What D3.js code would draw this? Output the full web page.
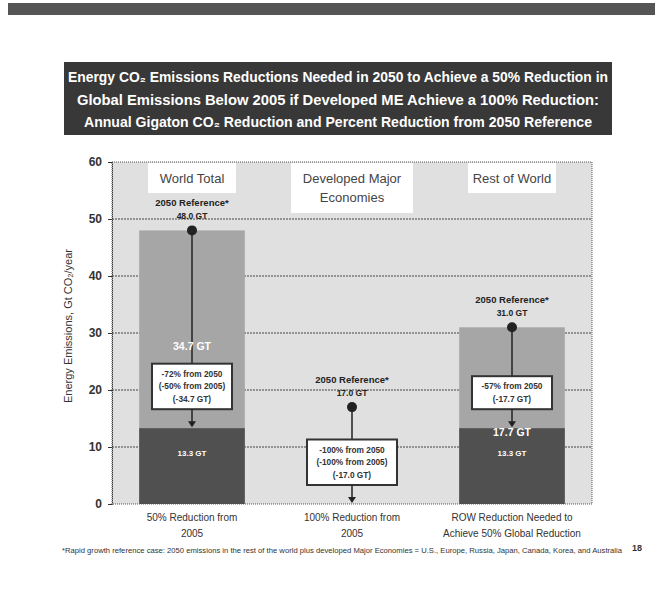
<!DOCTYPE html>
<html>
<head>
<meta charset="utf-8">
<script src="https://cdn.jsdelivr.net/npm/d3@7"></script>
<style>
  body { margin: 0; background: #fff; }
  svg { display: block; font-family: "Liberation Sans", Arial, sans-serif; }
</style>
</head>
<body>
<div id="chart"></div>
<script>
// chart values
var categories = ["World Total", "Developed Major Economies", "Rest of World"];
var categoryHeads = [["World Total"], ["Developed Major", "Economies"], ["Rest of World"]];
var reference2050 = [48.0, 17.0, 31.0];
var target2050 = [13.3, 0, 13.3];
var reductionGt = [34.7, 17.0, 17.7];
var boxText = [
  ["-72% from 2050", "(-50% from 2005)", "(-34.7 GT)"],
  ["-100% from 2050", "(-100% from 2005)", "(-17.0 GT)"],
  ["-57% from 2050", "(-17.7 GT)"]
];
var xLabels = [
  ["50% Reduction from", "2005"],
  ["100% Reduction from", "2005"],
  ["ROW Reduction Needed to", "Achieve 50% Global Reduction"]
];
var yTicks = [0, 10, 20, 30, 40, 50, 60];
var titleLines = [
  "Energy CO\u2082 Emissions Reductions Needed in 2050 to Achieve a 50% Reduction in",
  "Global Emissions Below 2005 if Developed ME Achieve a 100% Reduction:",
  "Annual Gigaton CO\u2082 Reduction and Percent Reduction from 2050 Reference"
];
var footnote = "*Rapid growth reference case: 2050 emissions in the rest of the world plus developed Major Economies = U.S., Europe, Russia, Japan, Canada, Korea, and Australia";

var W = 658, H = 594;
var svg = d3.select("#chart").append("svg")
  .attr("width", W)
  .attr("height", H);

svg.append("rect").attr("width", W).attr("height", H).attr("fill", "#fff");

// top band
svg.append("rect")
  .attr("x", 8).attr("y", 3).attr("width", 647).attr("height", 12)
  .attr("fill", "#555");

// title banner
svg.append("rect")
  .attr("x", 64).attr("y", 62).attr("width", 548).attr("height", 73)
  .attr("fill", "#383838");

svg.selectAll(".title").data(titleLines).enter().append("text")
  .attr("x", 338)
  .attr("y", function(d, i) { return 82 + i * 22.5; })
  .attr("text-anchor", "middle")
  .attr("fill", "#fff")
  .attr("textLength", function(d, i) { return [540, 522, 508][i]; })
  .attr("lengthAdjust", "spacingAndGlyphs")
  .style("font-size", "14px")
  .style("font-weight", "bold")
  .text(function(d) { return d; });

// scales
var y = d3.scaleLinear().domain([0, 60]).range([504, 162]);
var x = d3.scaleBand().domain(categories).range([112, 592])
  .paddingInner(0.34).paddingOuter(0.17);
var cx = function(i) { return x(categories[i]) + x.bandwidth() / 2; };

// plot background
svg.append("rect")
  .attr("x", 112).attr("y", y(60)).attr("width", 480).attr("height", y(0) - y(60))
  .attr("fill", "#e0e0e0")
  .attr("stroke", "#555").attr("stroke-dasharray", "1,1");

// grid
svg.selectAll(".grid").data(yTicks.slice(1, -1)).enter().append("line")
  .attr("x1", 112).attr("x2", 592)
  .attr("y1", function(d) { return y(d); })
  .attr("y2", function(d) { return y(d); })
  .attr("stroke", "#444")
  .attr("stroke-width", 1.2)
  .attr("stroke-dasharray", "2,1");

// reference bars (only world and rest of world)
var barIdx = [0, 2];
svg.selectAll(".refbar").data(barIdx).enter().append("rect")
  .attr("x", function(i) { return x(categories[i]); })
  .attr("width", x.bandwidth())
  .attr("y", function(i) { return y(reference2050[i]); })
  .attr("height", function(i) { return y(0) - y(reference2050[i]); })
  .attr("fill", "#a6a6a6");

svg.selectAll(".tgtbar").data(barIdx).enter().append("rect")
  .attr("x", function(i) { return x(categories[i]); })
  .attr("width", x.bandwidth())
  .attr("y", function(i) { return y(target2050[i]); })
  .attr("height", function(i) { return y(0) - y(target2050[i]); })
  .attr("fill", "#505050");

// axis
var yAxis = d3.axisLeft(y).tickValues(yTicks).tickSize(4).tickPadding(6);
var ga = svg.append("g").attr("transform", "translate(112,0)").call(yAxis);
ga.select(".domain").attr("stroke", "#333").attr("stroke-dasharray", "1,1");
ga.selectAll(".tick line").attr("stroke", "#333");
ga.selectAll(".tick text")
  .style("font-size", "12px").style("font-weight", "bold").attr("fill", "#333");

svg.append("text")
  .attr("transform", "translate(72,326) rotate(-90)")
  .attr("text-anchor", "middle")
  .style("font-size", "11px")
  .attr("fill", "#333")
  .text("Energy Emissions, Gt CO\u2082/year");

// category head boxes
categoryHeads.forEach(function(lines, i) {
  var w = i === 1 ? 122 : 88;
  var h = lines.length * 20 + 10;
  svg.append("rect")
    .attr("x", cx(i) - w / 2).attr("y", y(60) + 1)
    .attr("width", w).attr("height", h)
    .attr("fill", "#fff");
  lines.forEach(function(t, j) {
    svg.append("text")
      .attr("x", cx(i)).attr("y", y(60) + 21 + j * 19)
      .attr("text-anchor", "middle")
      .style("font-size", "13px")
      .attr("fill", "#444")
      .text(t);
  });
});

// reference dots, stems, boxes, arrows
reference2050.forEach(function(v, i) {
  var c = cx(i);
  var lines = boxText[i];
  var bh = lines.length * 12.5 + 8;
  var bw = i === 1 ? 90 : 80;
  var bottom = y(target2050[i]) - 19;
  var top = bottom - bh;

  svg.append("text").attr("x", c).attr("y", y(v) - 24)
    .attr("text-anchor", "middle").style("font-size", "9.5px").style("font-weight", "bold")
    .attr("fill", "#222").text("2050 Reference*");
  svg.append("text").attr("x", c).attr("y", y(v) - 11)
    .attr("text-anchor", "middle").style("font-size", "8.5px").style("font-weight", "bold")
    .attr("fill", "#222").text(d3.format(".1f")(v) + " GT");

  svg.append("line").attr("x1", c).attr("x2", c)
    .attr("y1", y(v)).attr("y2", top)
    .attr("stroke", "#222").attr("stroke-width", 1.5);
  svg.append("circle").attr("cx", c).attr("cy", y(v)).attr("r", 5).attr("fill", "#222");

  svg.append("rect").attr("x", c - bw / 2).attr("y", top)
    .attr("width", bw).attr("height", bh)
    .attr("fill", "#fff").attr("stroke", "#333").attr("stroke-width", 2);
  lines.forEach(function(t, j) {
    svg.append("text").attr("x", c).attr("y", top + 13 + j * 12.5)
      .attr("text-anchor", "middle").style("font-size", "8.3px").style("font-weight", "bold")
      .attr("fill", "#333").text(t);
  });

  // arrow from box to target
  svg.append("line").attr("x1", c).attr("x2", c)
    .attr("y1", bottom).attr("y2", y(target2050[i]) - 5)
    .attr("stroke", "#222").attr("stroke-width", 1.5);
  svg.append("path")
    .attr("d", "M" + (c - 4) + "," + (y(target2050[i]) - 7) + "L" + (c + 4) + "," + (y(target2050[i]) - 7) +
      "L" + c + "," + (y(target2050[i]) - 1) + "Z")
    .attr("fill", "#222");

  // value labels inside bars
  if (target2050[i] > 0) {
    var ly = (top - y(v) > 70) ? top - 14 : y(target2050[i]) + 8;
    svg.append("text").attr("x", c).attr("y", ly)
      .attr("text-anchor", "middle").style("font-size", "10.5px").style("font-weight", "bold")
      .attr("fill", "#fff").text(d3.format(".1f")(reductionGt[i]) + " GT");
    svg.append("text").attr("x", c).attr("y", y(target2050[i]) + 28)
      .attr("text-anchor", "middle").style("font-size", "8px").style("font-weight", "bold")
      .attr("fill", "#fff").text(d3.format(".1f")(target2050[i]) + " GT");
  }
});

// x labels
xLabels.forEach(function(lines, i) {
  lines.forEach(function(t, j) {
    svg.append("text").attr("x", cx(i)).attr("y", 521 + j * 16)
      .attr("text-anchor", "middle").style("font-size", "10px").attr("fill", "#333").text(t);
  });
});

svg.append("text").attr("x", 62).attr("y", 553)
  .attr("textLength", 560).attr("lengthAdjust", "spacingAndGlyphs")
  .style("font-size", "7px").attr("fill", "#333").text(footnote);
svg.append("text").attr("x", 632).attr("y", 551)
  .style("font-size", "9px").style("font-weight", "bold").attr("fill", "#333").text("18");
</script>
</body>
</html>
